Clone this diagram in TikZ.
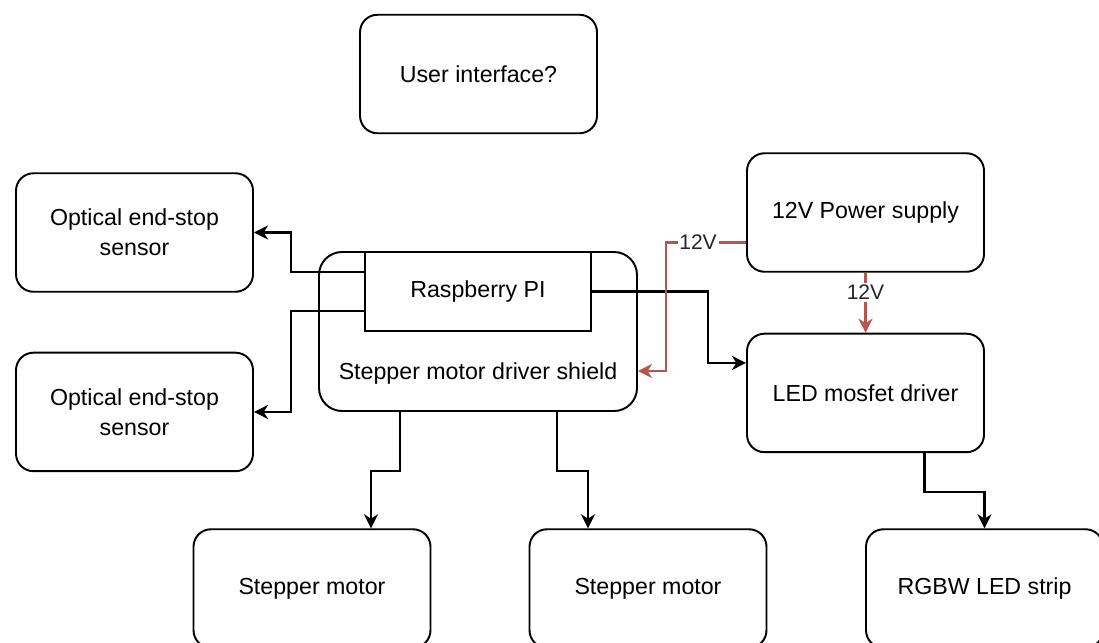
\documentclass[tikz,border=0pt]{standalone}
\usepackage{fontspec}
\setmainfont{Liberation Sans}
\usetikzlibrary{arrows.meta, positioning}
\usepackage{xcolor}
\definecolor{pwrred}{HTML}{B85450}

\begin{document}
\begin{tikzpicture}[
      box/.style={rectangle, draw, rounded corners=0.35cm, line width=1.1pt, minimum width=4.74cm, minimum height=2.37cm, align=center, font=\fontsize{13.2}{17}\selectfont},
      shieldbox/.style={box, rounded corners=0.46cm, minimum width=6.36cm, minimum height=3.18cm},
      pibox/.style={box, sharp corners, minimum width=4.52cm, minimum height=1.58cm},
      txt/.style={font=\fontsize{13.2}{17}\selectfont, inner sep=0pt},
      lbl/.style={font=\fontsize{12}{14}\selectfont, fill=white, inner sep=1pt, text=black!85},
      arrow/.style={line width=1.3pt, -{Stealth[length=8pt, width=8pt, inset=2.5pt]}},
      pwr/.style={arrow, draw=pwrred, -{Stealth[length=8pt, width=8pt, inset=2.5pt, fill=pwrred]}}
    ]
    \useasboundingbox (0,0) rectangle (21.98,-12.84);

    % Nodes
    \node (ui) [box] at (9.57,-1.48) {User interface?};
    \node (opt1) [box] at (2.69,-4.65) {Optical end-stop\\sensor};
    \node (opt2) [box, below=1.18cm of opt1] {Optical end-stop\\sensor};
    \node (shield) [shieldbox] at (9.56,-6.63) {};
    \node (pi) [pibox, below=0pt of shield.north] {Raspberry PI};
    \node (shieldtext) [txt] at ([yshift=-0.84cm]shield.center) {Stepper motor driver shield};
    \node (power) [box] at (17.31,-4.25) {12V Power supply};
    \node (led) [box, below=1.2cm of power] {LED mosfet driver};
    \node (step1) [box] at (6.24,-11.77) {Stepper motor};
    \node (step2) [box] at (12.96,-11.77) {Stepper motor};
    \node (strip) [box] at (19.69,-11.77) {RGBW LED strip};

    % Connections
    \draw [arrow] ([yshift=0.39cm]pi.west) -- ++(-1.46,0) |- (opt1.east);
    \draw [arrow] ([yshift=-0.39cm]pi.west) -- ++(-1.46,0) |- (opt2.east);
    \draw [arrow] (pi.east) -- ++(2.32,0) |- ([yshift=0.6cm]led.west);
    \draw [arrow] ([xshift=-1.56cm]shield.south) -- ++(0,-1.18) -| ([xshift=1.18cm]step1.north);
    \draw [arrow] ([xshift=1.58cm]shield.south) -- ++(0,-1.18) -| ([xshift=-1.2cm]step2.north);
    \draw [arrow] ([xshift=1.18cm]led.south) -- ++(0,-0.78) -| (strip.north);

    % 12V supply lines
    \draw [pwr] ([yshift=-0.6cm]power.west) -- node[lbl, pos=0.6] {12V} ++(-1.6,0) |- ([yshift=-0.79cm]shield.east);
    \draw [pwr] (power.south) -- node[lbl, pos=0.33] {12V} (led.north);

  \end{tikzpicture}
\end{document}
